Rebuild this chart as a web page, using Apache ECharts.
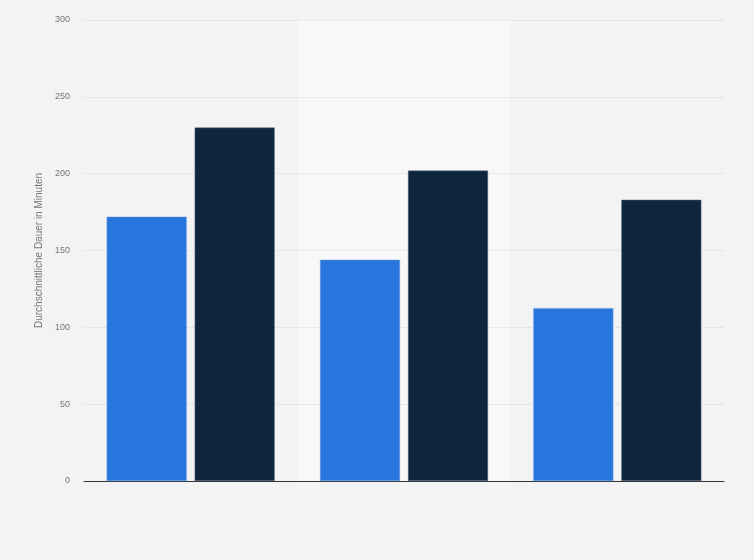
<!DOCTYPE html>
<html>
<head>
<meta charset="utf-8">
<script src="https://cdn.jsdelivr.net/npm/echarts@6/dist/echarts.min.js"></script>
<style>html,body{margin:0;padding:0;background:#f4f4f4;}#c{width:754px;height:560px;}</style>
</head>
<body>
<div id="c"></div>
<script>
const categories = ['Kategorie 1', 'Kategorie 2', 'Kategorie 3'];
const seriesA = [172, 144, 112.5];
const seriesB = [230, 202, 183];
const yTicks = [0, 50, 100, 150, 200, 250, 300];

const chart = echarts.init(document.getElementById('c'), null, {renderer: 'canvas'});
chart.setOption({
  backgroundColor: '#f3f3f3',
  animation: false,
  grid: {left: 84, right: 30, top: 20, bottom: 79},
  xAxis: {
    type: 'category',
    data: categories,
    z: 0,
    axisLine: {show: true, lineStyle: {color: '#333', width: 1}},
    axisTick: {show: false},
    axisLabel: {show: false},
    splitArea: {show: true, areaStyle: {color: ['#f3f3f3', '#f8f8f8']}}
  },
  yAxis: {
    type: 'value',
    z: 1,
    min: yTicks[0],
    max: yTicks[yTicks.length - 1],
    interval: 50,
    name: 'Durchschnittliche Dauer in Minuten',
    nameLocation: 'middle',
    nameGap: 39,
    nameTextStyle: {color: '#777', fontSize: 10, fontFamily: 'Arial, Liberation Sans, sans-serif'},
    axisLine: {show: false},
    axisTick: {show: false},
    axisLabel: {color: '#777', fontSize: 9, margin: 14, fontFamily: 'Arial, Liberation Sans, sans-serif'},
    splitLine: {show: true, showMinLine: false, lineStyle: {color: '#d9d9d9', type: [1, 1], width: 1}}
  },
  series: [
    {
      name: 'Serie A',
      type: 'bar',
      z: 3,
      data: seriesA,
      barWidth: 80,
      barGap: '10%',
      itemStyle: {color: '#2876dd', borderColor: '#6b9fe6', borderWidth: 0.5}
    },
    {
      name: 'Serie B',
      type: 'bar',
      z: 3,
      data: seriesB,
      barWidth: 80,
      barGap: '10%',
      itemStyle: {color: '#0f273d', borderColor: '#5a6b7c', borderWidth: 0.5}
    }
  ]
});
</script>
</body>
</html>
